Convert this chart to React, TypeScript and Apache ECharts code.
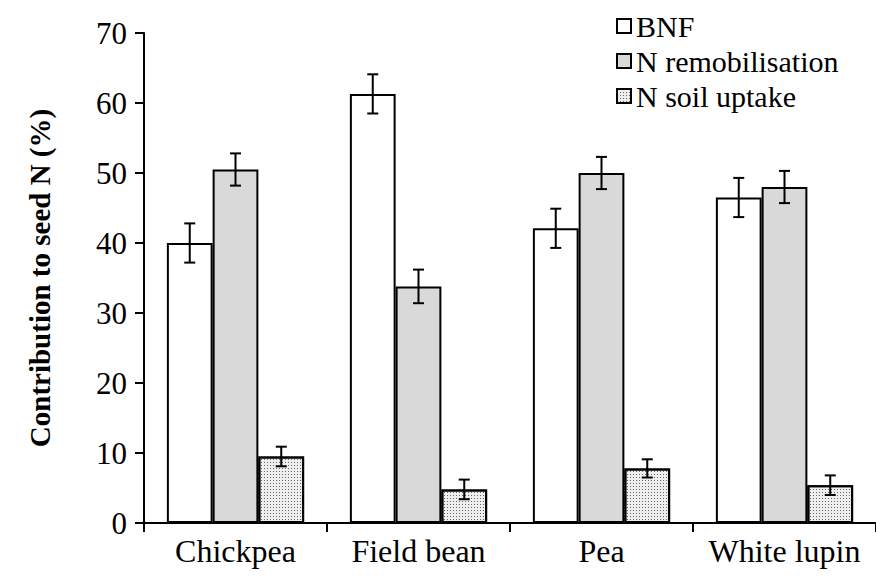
import React, { useEffect, useRef } from 'react';
import * as echarts from 'echarts';

const categories = ['Chickpea', 'Field bean', 'Pea', 'White lupin'];
const seriesNames = ['BNF', 'N remobilisation', 'N soil uptake'];
const bnf = [40.0, 61.3, 42.1, 46.5];
const bnfErr = [2.8, 2.8, 2.8, 2.8];
const remob = [50.5, 33.8, 50.0, 48.0];
const remobErr = [2.3, 2.4, 2.3, 2.3];
const soil = [9.5, 4.8, 7.8, 5.4];
const soilErr = [1.4, 1.4, 1.3, 1.4];
const yMin = 0;
const yMax = 70;
const yStep = 10;

const FONT = "'Liberation Serif', 'Times New Roman', serif";
const BAR_FRAC = 0.75;

export default function App() {
  const ref = useRef<HTMLDivElement>(null);
  useEffect(() => {
    if (!ref.current) return;
    const chart = echarts.init(ref.current, null, { renderer: 'svg' });
    const values = [bnf, remob, soil];
    const errs = [bnfErr, remobErr, soilErr];
    const errData: number[][] = [];
    values.forEach((arr, s) => {
      arr.forEach((v, i) => errData.push([i, v, errs[s][i], s]));
    });
    const barStyle = { borderColor: '#000', borderWidth: 2 };
    chart.setOption({
      animation: false,
      backgroundColor: '#fff',
      grid: { left: 144, top: 33, width: 738, height: 490 },
      legend: {
        orient: 'vertical',
        left: 611,
        top: 6,
        icon: 'rect',
        itemWidth: 14,
        itemHeight: 14,
        itemGap: 5,
        data: seriesNames,
        textStyle: { fontFamily: FONT, fontSize: 30, color: '#000' },
      },
      xAxis: {
        type: 'category',
        data: categories,
        boundaryGap: true,
        axisLine: { lineStyle: { color: '#000', width: 2 } },
        axisTick: { show: true, length: 9, interval: 0, lineStyle: { color: '#000', width: 2 } },
        axisLabel: { fontFamily: FONT, fontSize: 32, color: '#000', margin: 12, interval: 0 },
      },
      yAxis: {
        type: 'value',
        min: yMin,
        max: yMax,
        interval: yStep,
        name: 'Contribution to seed N (%)',
        nameLocation: 'middle',
        nameGap: 90,
        nameTextStyle: { fontFamily: FONT, fontSize: 29, fontWeight: 'bold', color: '#000' },
        axisLine: { show: true, lineStyle: { color: '#000', width: 2 } },
        axisTick: { show: true, length: 9, lineStyle: { color: '#000', width: 2 } },
        splitLine: { show: false },
        axisLabel: { fontFamily: FONT, fontSize: 31, color: '#000', margin: 17 },
      },
      series: [
        {
          name: seriesNames[0],
          type: 'bar',
          data: bnf,
          barGap: '0%',
          barCategoryGap: '25%',
          itemStyle: { color: '#ffffff', ...barStyle },
        },
        {
          name: seriesNames[1],
          type: 'bar',
          data: remob,
          barGap: '0%',
          barCategoryGap: '25%',
          itemStyle: { color: '#d9d9d9', ...barStyle },
        },
        {
          name: seriesNames[2],
          type: 'bar',
          data: soil,
          barGap: '0%',
          barCategoryGap: '25%',
          itemStyle: {
            color: '#eeeeee',
            ...barStyle,
            decal: {
              symbol: 'rect',
              symbolSize: 1,
              color: '#666666',
              backgroundColor: '#eeeeee',
              dashArrayX: [1, 2],
              dashArrayY: [1, 2],
              rotation: 0,
            },
          },
        },
        {
          type: 'custom',
          name: 'err',
          data: errData,
          encode: { x: 0, y: 1 },
          z: 10,
          renderItem: (params: any, api: any) => {
            const i = api.value(0);
            const v = api.value(1);
            const e = api.value(2);
            const s = api.value(3);
            const catW = api.size([1, 0])[0];
            const barW = (catW * BAR_FRAC) / 3;
            const off = (s - 1) * barW;
            const top = api.coord([i, v + e]);
            const bot = api.coord([i, v - e]);
            const x = top[0] + off;
            const cap = 5.5;
            const st = { stroke: '#000', lineWidth: 2 };
            return {
              type: 'group',
              children: [
                { type: 'line', shape: { x1: x, y1: top[1], x2: x, y2: bot[1] }, style: st },
                { type: 'line', shape: { x1: x - cap, y1: top[1], x2: x + cap, y2: top[1] }, style: st },
                { type: 'line', shape: { x1: x - cap, y1: bot[1], x2: x + cap, y2: bot[1] }, style: st },
              ],
            };
          },
        },
      ],
    });
    return () => chart.dispose();
  }, []);
  return (
    <div
      ref={ref}
      style={{ position: 'absolute', left: 0, top: 0, width: 876, height: 578, background: '#fff' }}
    />
  );
}
